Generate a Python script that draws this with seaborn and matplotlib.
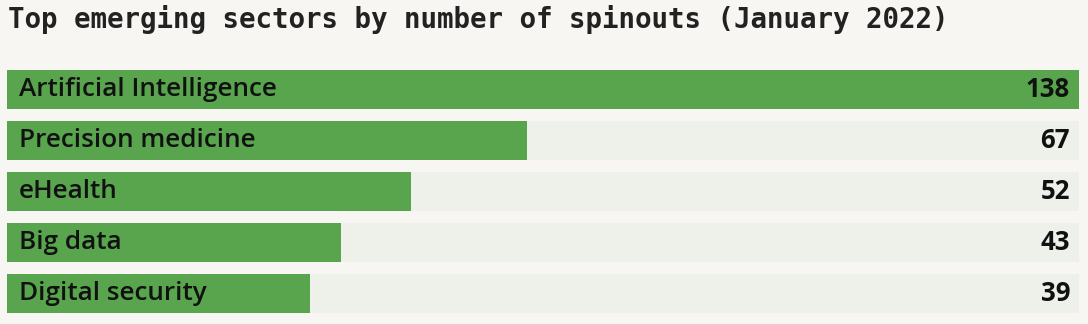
import matplotlib
matplotlib.use("Agg")
import matplotlib.pyplot as plt
import seaborn as sns
import pandas as pd

sectors = ["Artificial Intelligence", "Precision medicine", "eHealth", "Big data", "Digital security"]
spinouts = [138, 67, 52, 43, 39]
title = "Top emerging sectors by number of spinouts (January 2022)"

BG = "#f7f6f2"
GREEN = "#58a54e"
TRACK = "#edf1ea"

sns.set_theme(style="white")
plt.rcParams["font.family"] = ["Open Sans", "DejaVu Sans"]

df = pd.DataFrame({"sector": sectors, "spinouts": spinouts})
df["track"] = max(spinouts)

fig = plt.figure(figsize=(10.88, 3.24), dpi=100, facecolor=BG)
ax = fig.add_axes([7 / 1088, 5 / 324, 1072 / 1088, 255 / 324])
ax.set_facecolor(BG)

sns.barplot(data=df, x="track", y="sector", color=TRACK, width=0.765,
            saturation=1, ax=ax, orient="h", linewidth=0)
sns.barplot(data=df, x="spinouts", y="sector", color=GREEN, width=0.765,
            saturation=1, ax=ax, orient="h", linewidth=0)

xmax = max(spinouts)
ax.set_xlim(0, xmax)
ax.set_ylim(len(sectors) - 0.5, -0.5)
for i, (s, v) in enumerate(zip(sectors, spinouts)):
    ax.text(12 / 1072 * xmax, i, s, ha="left", va="center", fontsize=18.8,
            fontweight="semibold", color="#111111")
    ax.text(xmax - 9 / 1072 * xmax, i, str(v), ha="right", va="center",
            fontsize=18.5, fontweight="bold", color="#111111")

ax.set_xlabel("")
ax.set_ylabel("")
ax.set_xticks([])
ax.set_yticks([])
for sp in ax.spines.values():
    sp.set_visible(False)

fig.text(8 / 1088, 1 - 19 / 324, title, ha="left", va="center",
         family=["DejaVu Sans Mono"], fontweight="bold", fontsize=19.8,
         color="#222222")

fig.savefig("out.png", dpi=100, facecolor=BG)
